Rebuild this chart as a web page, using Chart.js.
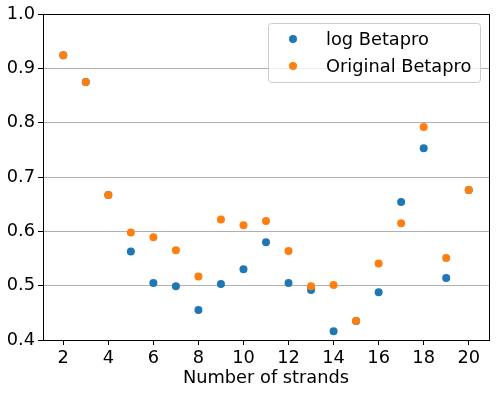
<!DOCTYPE html>
<html>
<head>
<meta charset="utf-8">
<script src="https://cdn.jsdelivr.net/npm/chart.js@4"></script>
<style>
  html, body { margin: 0; padding: 0; background: #fff; }
  #wrap { width: 496px; height: 394px; }
</style>
</head>
<body>
<div id="wrap"><canvas id="chart" width="496" height="394"></canvas></div>
<script>
const strands = [2, 3, 4, 5, 6, 7, 8, 9, 10, 11, 12, 13, 14, 15, 16, 17, 18, 19, 20];
const logBetapro = [0.924, 0.875, 0.667, 0.563, 0.505, 0.499, 0.455, 0.503, 0.530, 0.580,
                    0.505, 0.492, 0.416, 0.435, 0.488, 0.654, 0.753, 0.514, 0.676];
const origBetapro = [0.924, 0.875, 0.667, 0.598, 0.589, 0.565, 0.517, 0.622, 0.611, 0.619,
                     0.564, 0.499, 0.501, 0.435, 0.541, 0.615, 0.792, 0.551, 0.676];
const xTicks = [2, 4, 6, 8, 10, 12, 14, 16, 18, 20];
const seriesNames = ['log Betapro', 'Original Betapro'];
const colors = ['#1f77b4', '#ff7f0e'];

const FONT = 'DejaVu Sans';
const FSIZE = 17.8;

function pts(ys) {
    return strands.map((x, i) => ({ x, y: ys[i] }));
}

// box spines + legend drawn by hand, matplotlib style
const framePlugin = {
    id: 'frame',
    afterDatasetsDraw(chart) {
        const { ctx, chartArea: a } = chart;
        ctx.save();
        ctx.strokeStyle = '#000';
        ctx.lineWidth = 1;
        ctx.strokeRect(Math.round(a.left) + 0.5, Math.round(a.top) + 0.5,
            Math.round(a.right - a.left), Math.round(a.bottom - a.top));
        ctx.restore();
    },
    afterDraw(chart) {
        const { ctx } = chart;
        const bx = 268, by = 23, bw = 212, bh = 59;
        ctx.save();
        ctx.beginPath();
        ctx.roundRect(bx + 0.5, by + 0.5, bw, bh, 3);
        ctx.fillStyle = 'rgba(255,255,255,0.8)';
        ctx.fill();
        ctx.strokeStyle = '#cccccc';
        ctx.lineWidth = 1;
        ctx.stroke();
        ctx.font = FSIZE + 'px "' + FONT + '"';
        ctx.textBaseline = 'middle';
        seriesNames.forEach((name, i) => {
            const y = 39 + i * 27;
            ctx.beginPath();
            ctx.arc(293, y, 4, 0, Math.PI * 2);
            ctx.fillStyle = colors[i];
            ctx.fill();
            ctx.fillStyle = '#000';
            ctx.fillText(name, 326, y + 1);
        });
        ctx.restore();
    }
};

new Chart(document.getElementById('chart'), {
    type: 'scatter',
    data: {
        datasets: [
            { label: seriesNames[0], data: pts(logBetapro), backgroundColor: colors[0],
              borderWidth: 0, pointRadius: 4, order: 2 },
            { label: seriesNames[1], data: pts(origBetapro), backgroundColor: colors[1],
              borderWidth: 0, pointRadius: 4, order: 1 }
        ]
    },
    options: {
        responsive: false,
        animation: false,
        layout: { padding: { left: 0, top: 14, right: 7, bottom: 5 } },
        plugins: { legend: { display: false }, tooltip: { enabled: false } },
        scales: {
            x: {
                type: 'linear',
                min: 1.1,
                max: 20.9,
                afterBuildTicks: s => { s.ticks = xTicks.map(v => ({ value: v })); },
                afterFit: s => { s.height = 49; },
                border: { display: false },
                grid: { drawOnChartArea: false, drawTicks: true, tickLength: 5, tickColor: '#000' },
                ticks: { color: '#000', padding: 3, maxRotation: 0,
                         font: { family: FONT, size: FSIZE } },
                title: { display: true, text: 'Number of strands', color: '#000', padding: { top: 0, bottom: 0 },
                         font: { family: FONT, size: FSIZE } }
            },
            y: {
                min: 0.4,
                max: 1.0,
                afterFit: s => { s.width = 43; },
                border: { display: false },
                grid: { color: '#b0b0b0', lineWidth: 1, drawTicks: true, tickLength: 5, tickColor: '#000' },
                ticks: { stepSize: 0.1, color: '#000', padding: 3,
                         callback: v => v.toFixed(1),
                         font: { family: FONT, size: FSIZE } }
            }
        }
    },
    plugins: [framePlugin]
});
</script>
</body>
</html>
